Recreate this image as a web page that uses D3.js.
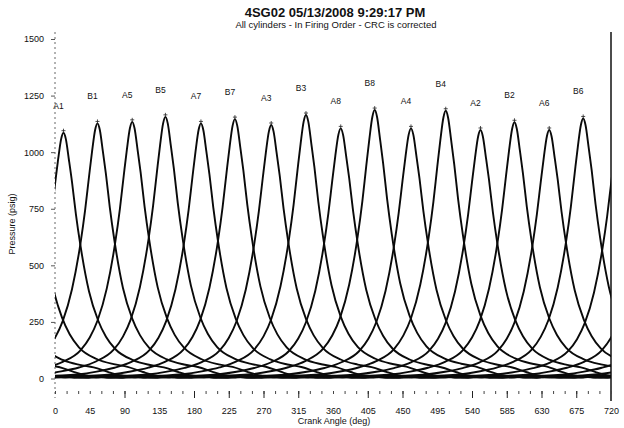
<!DOCTYPE html>
<html>
<head>
<meta charset="utf-8">
<script src="https://cdn.jsdelivr.net/npm/d3@7"></script>
<style>
body { margin: 0; background: #fff; }
text { font-family: "Liberation Sans", Arial, sans-serif; fill: #111; }
</style>
</head>
<body>
<svg id="chart" width="624" height="428"></svg>
<script>
// cylinders in firing order, with crank angle of peak pressure (deg) and peak pressure (psig)
var cylinders = ["A1","B1","A5","B5","A7","B7","A3","B3","A8","B8","A4","B4","A2","B2","A6","B6"];
var peakAngles = [11, 55, 100, 143, 189, 233, 280, 325, 370, 414, 461, 506, 551, 595, 640, 684];
var peakPressures = [1086, 1127, 1134, 1156, 1127, 1146, 1120, 1164, 1105, 1186, 1105, 1183, 1098, 1132, 1098, 1149];

// shape of one pressure trace: degrees from peak -> fraction of peak
var profileOffsets = [-360,-330,-300,-270,-240,-210,-180,-160,-135,-112,-90,-67,-55,-45,-33,-22,-16,-11,-7,-3,0,
                      3,7,11,16,22,33,45,55,67,90,112,130,150,165,180,210,240,270,300,330,360];
var profileFractions = [0.006,0.010,0.004,0.009,0.005,0.010,0.012,0.016,0.027,0.042,0.065,0.11,0.16,0.225,0.35,0.53,0.66,0.79,0.89,0.975,1.0,
                        0.975,0.89,0.80,0.67,0.54,0.355,0.235,0.17,0.12,0.075,0.055,0.045,0.025,0.012,0.006,0.003,0.009,0.004,0.010,0.005,0.006];

var xTickLabels = [0,45,90,135,180,225,270,315,360,405,450,495,540,585,630,675,720];
var yTickLabels = [0,250,500,750,1000,1250,1500];
// longer event marks seen below the traces
var eventMarks = [90,180,225,270,315,405,450,540,585,630,675];

var svg = d3.select("#chart");

var x = d3.scaleLinear().domain([0, 720]).range([55, 611]);
var y = d3.scaleLinear().domain([0, 1500]).range([378.5, 39]);

// titles
svg.append("text")
    .attr("x", 335).attr("y", 17)
    .attr("text-anchor", "middle")
    .style("font-size", "13px").style("font-weight", "bold")
    .text("4SG02 05/13/2008 9:29:17 PM");
svg.append("text")
    .attr("x", 336).attr("y", 28)
    .attr("text-anchor", "middle")
    .style("font-size", "9.5px")
    .text("All cylinders - In Firing Order - CRC is corrected");

// y axis
var yAxis = svg.append("g")
    .attr("transform", "translate(55,0)")
    .call(d3.axisLeft(y).tickValues(yTickLabels).tickFormat(d3.format("d")).tickSize(4).tickPadding(7));
yAxis.select(".domain").remove();
yAxis.selectAll("text").style("font-size", "9px");
yAxis.selectAll("line").attr("stroke", "#555");
svg.append("line")
    .attr("x1", 55).attr("x2", 55)
    .attr("y1", 32).attr("y2", 398)
    .attr("stroke", "#666").attr("stroke-width", 1)
    .attr("stroke-dasharray", "2,3");

svg.append("text")
    .attr("transform", "translate(15,224) rotate(-90)")
    .attr("text-anchor", "middle")
    .style("font-size", "9px")
    .text("Pressure (psig)");

// right border
svg.append("line")
    .attr("x1", 611).attr("x2", 611)
    .attr("y1", 32).attr("y2", 401)
    .attr("stroke", "#111").attr("stroke-width", 1.5);

// x axis: small marks every 15 deg, labels every 45 deg
var minor = svg.append("g")
    .attr("transform", "translate(0,391)")
    .call(d3.axisBottom(x).tickValues(d3.range(0, 721, 15)).tickSize(3).tickFormat(""));
minor.select(".domain").remove();
minor.selectAll("line").attr("stroke", "#444");

var major = svg.append("g")
    .attr("transform", "translate(0,391)")
    .call(d3.axisBottom(x).tickValues(eventMarks).tickSize(7).tickFormat(""));
major.select(".domain").remove();
major.selectAll("line").attr("stroke", "#222");

var xAxis = svg.append("g")
    .attr("transform", "translate(0,391)")
    .call(d3.axisBottom(x).tickValues(xTickLabels).tickSize(0).tickPadding(17));
xAxis.select(".domain").remove();
xAxis.selectAll("text").style("font-size", "9px");

svg.append("text")
    .attr("x", 334).attr("y", 424)
    .attr("text-anchor", "middle")
    .style("font-size", "9px")
    .text("Crank Angle (deg)");

// traces
svg.append("clipPath").attr("id", "plotClip")
    .append("rect")
    .attr("x", 55).attr("y", 0)
    .attr("width", 556).attr("height", 428);

var profile = profileOffsets.map(function (o, i) { return { off: o, frac: profileFractions[i] }; });

var traces = svg.append("g").attr("clip-path", "url(#plotClip)");

cylinders.forEach(function (name, i) {
    var peakA = peakAngles[i], peakP = peakPressures[i];
    [-720, 0, 720].forEach(function (shift) {
        var line = d3.line()
            .x(function (d) { return x(peakA + shift + d.off); })
            .y(function (d) { return y(peakP * d.frac); })
            .curve(d3.curveMonotoneX);
        traces.append("path")
            .datum(profile)
            .attr("d", line)
            .attr("fill", "none")
            .attr("stroke", "#0a0a0a")
            .attr("stroke-width", 1.9)
            .attr("stroke-linejoin", "round");
    });
});

// peak markers and cylinder labels
cylinders.forEach(function (name, i) {
    var px = x(peakAngles[i]), py = y(peakPressures[i]);
    svg.append("path")
        .attr("d", "M" + (px - 2) + "," + (py - 2) + "h4M" + px + "," + (py - 4) + "v4")
        .attr("stroke", "#222").attr("stroke-width", 0.8);
    svg.append("text")
        .attr("x", px - 5).attr("y", py - 24)
        .attr("text-anchor", "middle")
        .style("font-size", "8.5px")
        .text(name);
});
</script>
</body>
</html>
